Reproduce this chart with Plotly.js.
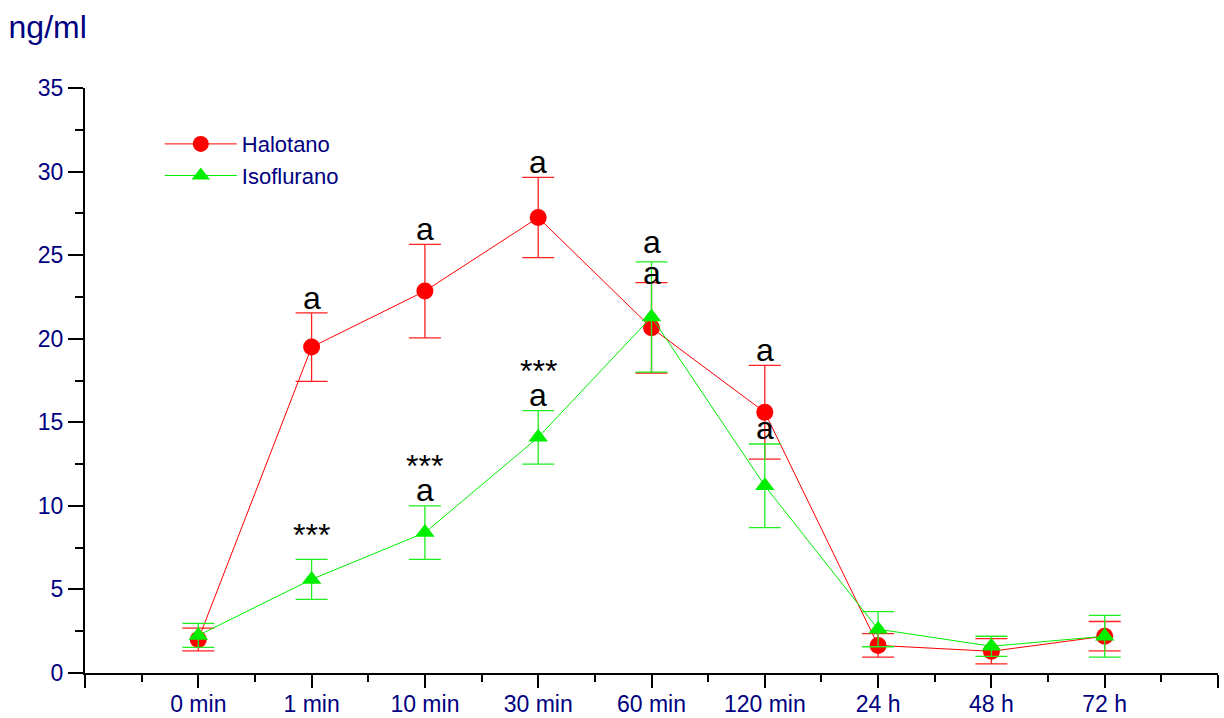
<!DOCTYPE html>
<html>
<head>
<meta charset="utf-8">
<script src="https://cdn.plot.ly/plotly-3.0.1.min.js"></script>
<style>
  html, body { margin: 0; padding: 0; background: #fff; }
  #chart { width: 1224px; height: 718px; }
</style>
</head>
<body>
<div id="chart"></div>
<script>
// Sampling times
const categories = ['0 min', '1 min', '10 min', '30 min', '60 min', '120 min', '24 h', '48 h', '72 h'];

// Mean concentrations (ng/ml) and their error
const halotano = [2.0, 19.5, 22.85, 27.25, 20.65, 15.6, 1.65, 1.3, 2.2];
const halotanoErr = [0.68, 2.05, 2.8, 2.4, 2.7, 2.8, 0.7, 0.76, 0.88];
const isoflurano = [2.25, 5.6, 8.4, 14.1, 21.3, 11.2, 2.62, 1.6, 2.2];
const isofluranoErr = [0.72, 1.2, 1.6, 1.6, 3.3, 2.5, 1.05, 0.6, 1.25];

// Significance labels per time point
const halotanoLetters = ['', 'a', 'a', 'a', 'a', 'a', '', '', ''];
const isofluranoLetters = ['', '', 'a', 'a', 'a', 'a', '', '', ''];
const isofluranoStars = ['', '***', '***', '***', '', '', '', '', ''];

const xIdx = categories.map((c, i) => i);
const FONT = 'Arial, "Liberation Sans", sans-serif';
const NAVY = '#000080';

const traces = [
  {
    name: 'Halotano', x: xIdx, y: halotano, type: 'scatter', mode: 'lines+markers',
    line: { color: '#ff0000', width: 1 },
    marker: { symbol: 'circle', size: 17, color: '#ff0000' },
    error_y: { type: 'data', array: halotanoErr, visible: true, color: '#ff2020', thickness: 1.3, width: 16 }
  },
  {
    name: 'Isoflurano', x: xIdx, y: isoflurano, type: 'scatter', mode: 'lines+markers',
    line: { color: '#00ee00', width: 1 },
    marker: { symbol: 'triangle-up', size: 17, color: '#00ee00' },
    error_y: { type: 'data', array: isofluranoErr, visible: true, color: '#20ee20', thickness: 1.3, width: 16 }
  }
];

const annotations = [];
function addLabel(x, y, text, shift) {
  annotations.push({
    x: x, y: y, xref: 'x', yref: 'y', text: text, showarrow: false,
    yanchor: 'bottom', yshift: shift,
    font: { family: FONT, size: 32, color: '#000' }
  });
}
categories.forEach((c, i) => {
  if (halotanoLetters[i]) addLabel(i, halotano[i] + halotanoErr[i], halotanoLetters[i], i === 4 ? -10 : -5);
  if (isofluranoLetters[i]) addLabel(i, isoflurano[i] + isofluranoErr[i], isofluranoLetters[i], i === 4 ? 0 : -4);
  if (isofluranoStars[i]) addLabel(i, isoflurano[i] + isofluranoErr[i], isofluranoStars[i], isofluranoLetters[i] ? 20 : 4);
});

const layout = {
  width: 1224, height: 718,
  margin: { l: 85, r: 6, t: 88, b: 45 },
  paper_bgcolor: '#fff', plot_bgcolor: '#fff',
  font: { family: FONT, color: NAVY, size: 23 },
  title: {
    text: 'ng/ml', x: 0.007, xref: 'container', xanchor: 'left',
    y: 0.962, yref: 'container', yanchor: 'middle',
    font: { family: FONT, size: 32, color: NAVY }
  },
  showlegend: true,
  legend: {
    x: 0.066, y: 0.94, xanchor: 'left', yanchor: 'top',
    bgcolor: 'rgba(0,0,0,0)', borderwidth: 0,
    font: { family: FONT, size: 22, color: NAVY },
    tracegroupgap: 0, itemwidth: 72
  },
  xaxis: {
    range: [-1, 9], showgrid: false, zeroline: false,
    showline: true, linecolor: '#000', linewidth: 2,
    tickmode: 'array',
    tickvals: [-1].concat(xIdx, [9]),
    ticktext: [''].concat(categories, ['']),
    ticks: 'outside', ticklen: 13, tickwidth: 2, tickcolor: '#000',
    ticklabelstandoff: -4,
    tickfont: { family: FONT, size: 23, color: NAVY },
    minor: { tickmode: 'linear', tick0: -0.5, dtick: 1, ticks: 'outside', ticklen: 7, tickwidth: 2, tickcolor: '#000' }
  },
  yaxis: {
    range: [0, 35], showgrid: false, zeroline: false,
    showline: true, linecolor: '#000', linewidth: 2,
    tickmode: 'linear', tick0: 0, dtick: 5,
    ticks: 'outside', ticklen: 15, tickwidth: 2, tickcolor: '#000',
    tickfont: { family: FONT, size: 23, color: NAVY },
    minor: { tickmode: 'linear', tick0: 2.5, dtick: 5, ticks: 'outside', ticklen: 8, tickwidth: 2, tickcolor: '#000' }
  },
  annotations: annotations
};

Plotly.newPlot('chart', traces, layout, { displayModeBar: false, staticPlot: true });
</script>
</body>
</html>
